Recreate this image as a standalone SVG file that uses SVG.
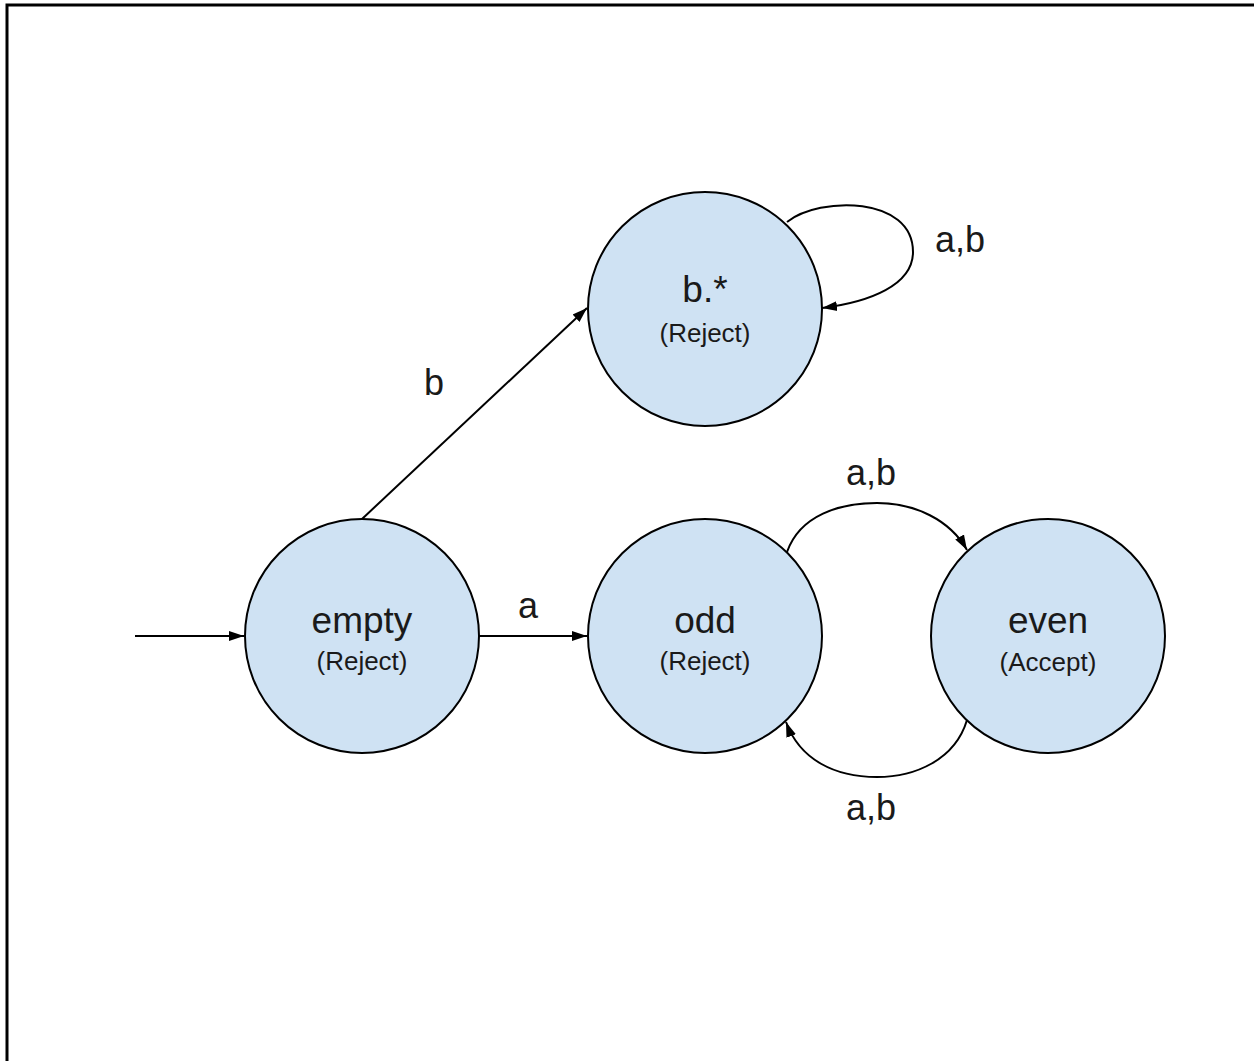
<svg xmlns="http://www.w3.org/2000/svg" width="1254" height="1061" viewBox="0 0 1254 1061">
  <style>
    .node circle { fill: #cfe2f3; stroke: #000; stroke-width: 2; }
    .title { font-family: "Liberation Sans", Arial, sans-serif; font-size: 37px; fill: #1a1a1a; text-anchor: middle; }
    .sub { font-family: "Liberation Sans", Arial, sans-serif; font-size: 26px; fill: #1a1a1a; text-anchor: middle; }
    .lbl { font-family: "Liberation Sans", Arial, sans-serif; font-size: 36px; fill: #1a1a1a; text-anchor: middle; }
    .edge { fill: none; stroke: #000; stroke-width: 2; marker-end: url(#arrow); }
  </style>
  <defs>
    <marker id="arrow" markerUnits="userSpaceOnUse" markerWidth="16" markerHeight="12" refX="15" refY="6" orient="auto">
      <path d="M0,1 L15,6 L0,11 z" fill="#000"/>
    </marker>
  </defs>
  <rect width="1254" height="1061" fill="#fff"/>
  <path d="M7,1061 V5 H1254" fill="none" stroke="#000" stroke-width="3"/>

  <g id="connectors">
    <line class="edge" x1="135" y1="636" x2="244" y2="636"/>
    <line class="edge" x1="478" y1="636" x2="587" y2="636"/>
    <line class="edge" x1="362" y1="519" x2="587" y2="308"/>
    <path class="edge" d="M787,222 C820,196 913,196 913,252 C913,285 870,302 822,308"/>
    <path class="edge" d="M787,552 C800,515 840,503 877,503 C915,503 950,520 967,550"/>
    <path class="edge" d="M967,720 C955,760 915,777 877,777 C835,777 800,760 786,722"/>
    <text class="lbl" x="528" y="618">a</text>
    <text class="lbl" x="434" y="395">b</text>
    <text class="lbl" x="960" y="252">a,b</text>
    <text class="lbl" x="871" y="485">a,b</text>
    <text class="lbl" x="871" y="820">a,b</text>
  </g>

  <g id="node-bstar" class="node">
    <circle cx="705" cy="309" r="117"/>
    <text class="title" x="705" y="302">b.*</text>
    <text class="sub" x="705" y="342">(Reject)</text>
  </g>
  <g id="node-empty" class="node">
    <circle cx="362" cy="636" r="117"/>
    <text class="title" x="362" y="633">empty</text>
    <text class="sub" x="362" y="670">(Reject)</text>
  </g>
  <g id="node-odd" class="node">
    <circle cx="705" cy="636" r="117"/>
    <text class="title" x="705" y="633">odd</text>
    <text class="sub" x="705" y="670">(Reject)</text>
  </g>
  <g id="node-even" class="node">
    <circle cx="1048" cy="636" r="117"/>
    <text class="title" x="1048" y="633">even</text>
    <text class="sub" x="1048" y="671">(Accept)</text>
  </g>
</svg>
